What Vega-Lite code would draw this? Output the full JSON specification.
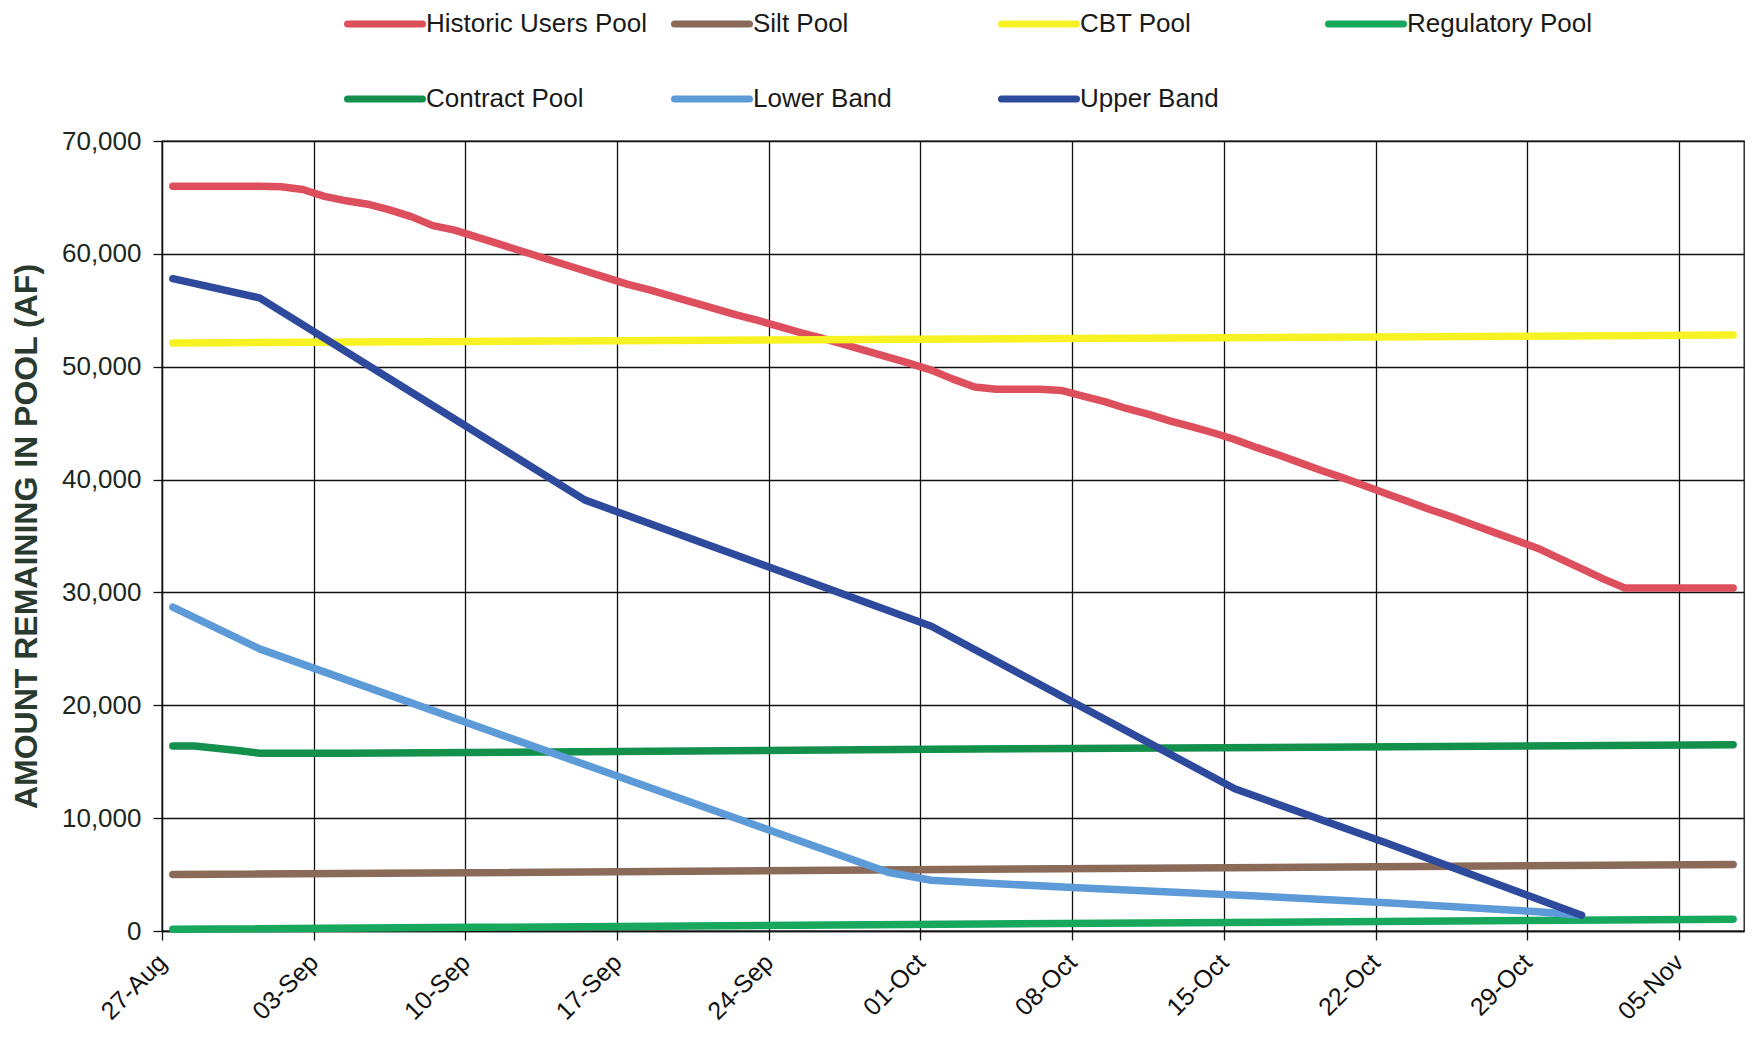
{
  "$schema": "https://vega.github.io/schema/vega-lite/v6.json",
  "autosize": {"type": "none"},
  "width": 1582,
  "height": 790,
  "padding": {"left": 162, "top": 141, "right": 10, "bottom": 108},
  "background": "#ffffff",
  "config": {
    "font": "Liberation Sans",
    "view": {"stroke": "#111111", "strokeWidth": 1.3},
    "axis": {
      "domainColor": "#111111",
      "domainWidth": 1.3,
      "gridColor": "#111111",
      "gridWidth": 1.3,
      "gridOpacity": 1,
      "tickColor": "#111111",
      "tickWidth": 1.3,
      "tickSize": 9,
      "labelFont": "Liberation Sans",
      "labelColor": "#1c2620",
      "labelFontSize": 24
    },
    "legend": {"padding": 0}
  },
  "data": {
    "values": [
      {"pool": "Historic Users Pool", "date": "2012-08-27T12:00", "af": 66000},
      {"pool": "Historic Users Pool", "date": "2012-08-28T12:00", "af": 66000},
      {"pool": "Historic Users Pool", "date": "2012-08-29T12:00", "af": 66000},
      {"pool": "Historic Users Pool", "date": "2012-08-30T12:00", "af": 66000},
      {"pool": "Historic Users Pool", "date": "2012-08-31T12:00", "af": 66000},
      {"pool": "Historic Users Pool", "date": "2012-09-01T12:00", "af": 65950},
      {"pool": "Historic Users Pool", "date": "2012-09-02T12:00", "af": 65700},
      {"pool": "Historic Users Pool", "date": "2012-09-03T12:00", "af": 65100},
      {"pool": "Historic Users Pool", "date": "2012-09-04T12:00", "af": 64700},
      {"pool": "Historic Users Pool", "date": "2012-09-05T12:00", "af": 64400},
      {"pool": "Historic Users Pool", "date": "2012-09-06T12:00", "af": 63900},
      {"pool": "Historic Users Pool", "date": "2012-09-07T12:00", "af": 63300},
      {"pool": "Historic Users Pool", "date": "2012-09-08T12:00", "af": 62500},
      {"pool": "Historic Users Pool", "date": "2012-09-09T12:00", "af": 62100},
      {"pool": "Historic Users Pool", "date": "2012-09-10T12:00", "af": 61500},
      {"pool": "Historic Users Pool", "date": "2012-09-11T12:00", "af": 60900},
      {"pool": "Historic Users Pool", "date": "2012-09-12T12:00", "af": 60300},
      {"pool": "Historic Users Pool", "date": "2012-09-13T12:00", "af": 59700},
      {"pool": "Historic Users Pool", "date": "2012-09-14T12:00", "af": 59100},
      {"pool": "Historic Users Pool", "date": "2012-09-15T12:00", "af": 58500},
      {"pool": "Historic Users Pool", "date": "2012-09-16T12:00", "af": 57900},
      {"pool": "Historic Users Pool", "date": "2012-09-17T12:00", "af": 57300},
      {"pool": "Historic Users Pool", "date": "2012-09-18T12:00", "af": 56800},
      {"pool": "Historic Users Pool", "date": "2012-09-19T12:00", "af": 56250},
      {"pool": "Historic Users Pool", "date": "2012-09-20T12:00", "af": 55700},
      {"pool": "Historic Users Pool", "date": "2012-09-21T12:00", "af": 55150},
      {"pool": "Historic Users Pool", "date": "2012-09-22T12:00", "af": 54600},
      {"pool": "Historic Users Pool", "date": "2012-09-23T12:00", "af": 54100},
      {"pool": "Historic Users Pool", "date": "2012-09-24T12:00", "af": 53550},
      {"pool": "Historic Users Pool", "date": "2012-09-25T12:00", "af": 53000},
      {"pool": "Historic Users Pool", "date": "2012-09-26T12:00", "af": 52500},
      {"pool": "Historic Users Pool", "date": "2012-09-27T12:00", "af": 51950},
      {"pool": "Historic Users Pool", "date": "2012-09-28T12:00", "af": 51400},
      {"pool": "Historic Users Pool", "date": "2012-09-29T12:00", "af": 50850},
      {"pool": "Historic Users Pool", "date": "2012-09-30T12:00", "af": 50300},
      {"pool": "Historic Users Pool", "date": "2012-10-01T12:00", "af": 49700},
      {"pool": "Historic Users Pool", "date": "2012-10-02T12:00", "af": 48900},
      {"pool": "Historic Users Pool", "date": "2012-10-03T12:00", "af": 48200},
      {"pool": "Historic Users Pool", "date": "2012-10-04T12:00", "af": 48000},
      {"pool": "Historic Users Pool", "date": "2012-10-05T12:00", "af": 48000},
      {"pool": "Historic Users Pool", "date": "2012-10-06T12:00", "af": 48000},
      {"pool": "Historic Users Pool", "date": "2012-10-07T12:00", "af": 47900},
      {"pool": "Historic Users Pool", "date": "2012-10-08T12:00", "af": 47400},
      {"pool": "Historic Users Pool", "date": "2012-10-09T12:00", "af": 46900},
      {"pool": "Historic Users Pool", "date": "2012-10-10T12:00", "af": 46300},
      {"pool": "Historic Users Pool", "date": "2012-10-11T12:00", "af": 45800},
      {"pool": "Historic Users Pool", "date": "2012-10-12T12:00", "af": 45200},
      {"pool": "Historic Users Pool", "date": "2012-10-13T12:00", "af": 44700},
      {"pool": "Historic Users Pool", "date": "2012-10-14T12:00", "af": 44150},
      {"pool": "Historic Users Pool", "date": "2012-10-15T12:00", "af": 43550},
      {"pool": "Historic Users Pool", "date": "2012-10-16T12:00", "af": 42850},
      {"pool": "Historic Users Pool", "date": "2012-10-17T12:00", "af": 42200},
      {"pool": "Historic Users Pool", "date": "2012-10-18T12:00", "af": 41500},
      {"pool": "Historic Users Pool", "date": "2012-10-19T12:00", "af": 40800},
      {"pool": "Historic Users Pool", "date": "2012-10-20T12:00", "af": 40150},
      {"pool": "Historic Users Pool", "date": "2012-10-21T12:00", "af": 39450},
      {"pool": "Historic Users Pool", "date": "2012-10-22T12:00", "af": 38750},
      {"pool": "Historic Users Pool", "date": "2012-10-23T12:00", "af": 38050},
      {"pool": "Historic Users Pool", "date": "2012-10-24T12:00", "af": 37350},
      {"pool": "Historic Users Pool", "date": "2012-10-25T12:00", "af": 36700},
      {"pool": "Historic Users Pool", "date": "2012-10-26T12:00", "af": 36000},
      {"pool": "Historic Users Pool", "date": "2012-10-27T12:00", "af": 35300},
      {"pool": "Historic Users Pool", "date": "2012-10-28T12:00", "af": 34600},
      {"pool": "Historic Users Pool", "date": "2012-10-29T12:00", "af": 33900},
      {"pool": "Historic Users Pool", "date": "2012-10-30T12:00", "af": 33000},
      {"pool": "Historic Users Pool", "date": "2012-10-31T12:00", "af": 32100},
      {"pool": "Historic Users Pool", "date": "2012-11-01T12:00", "af": 31200},
      {"pool": "Historic Users Pool", "date": "2012-11-02T12:00", "af": 30400},
      {"pool": "Historic Users Pool", "date": "2012-11-03T12:00", "af": 30400},
      {"pool": "Historic Users Pool", "date": "2012-11-04T12:00", "af": 30400},
      {"pool": "Historic Users Pool", "date": "2012-11-05T12:00", "af": 30400},
      {"pool": "Historic Users Pool", "date": "2012-11-06T12:00", "af": 30400},
      {"pool": "Historic Users Pool", "date": "2012-11-07T12:00", "af": 30400},

      {"pool": "Silt Pool", "date": "2012-08-27T12:00", "af": 5000},
      {"pool": "Silt Pool", "date": "2012-11-07T12:00", "af": 5900},

      {"pool": "CBT Pool", "date": "2012-08-27T12:00", "af": 52100},
      {"pool": "CBT Pool", "date": "2012-11-07T12:00", "af": 52800},

      {"pool": "Regulatory Pool", "date": "2012-08-27T12:00", "af": 150},
      {"pool": "Regulatory Pool", "date": "2012-11-07T12:00", "af": 1050},

      {"pool": "Contract Pool", "date": "2012-08-27T12:00", "af": 16400},
      {"pool": "Contract Pool", "date": "2012-08-28T12:00", "af": 16400},
      {"pool": "Contract Pool", "date": "2012-08-29T12:00", "af": 16200},
      {"pool": "Contract Pool", "date": "2012-08-30T12:00", "af": 16000},
      {"pool": "Contract Pool", "date": "2012-08-31T12:00", "af": 15750},
      {"pool": "Contract Pool", "date": "2012-09-04T12:00", "af": 15750},
      {"pool": "Contract Pool", "date": "2012-10-01T12:00", "af": 16100},
      {"pool": "Contract Pool", "date": "2012-11-07T12:00", "af": 16500},

      {"pool": "Lower Band", "date": "2012-08-27T12:00", "af": 28700},
      {"pool": "Lower Band", "date": "2012-08-31T12:00", "af": 25000},
      {"pool": "Lower Band", "date": "2012-09-29T12:00", "af": 5200},
      {"pool": "Lower Band", "date": "2012-10-01T12:00", "af": 4500},
      {"pool": "Lower Band", "date": "2012-10-08T12:00", "af": 3800},
      {"pool": "Lower Band", "date": "2012-10-15T12:00", "af": 3200},
      {"pool": "Lower Band", "date": "2012-10-22T12:00", "af": 2500},
      {"pool": "Lower Band", "date": "2012-10-29T12:00", "af": 1700},
      {"pool": "Lower Band", "date": "2012-10-31T12:00", "af": 1400},

      {"pool": "Upper Band", "date": "2012-08-27T12:00", "af": 57800},
      {"pool": "Upper Band", "date": "2012-08-31T12:00", "af": 56100},
      {"pool": "Upper Band", "date": "2012-09-15T12:00", "af": 38200},
      {"pool": "Upper Band", "date": "2012-10-01T12:00", "af": 27000},
      {"pool": "Upper Band", "date": "2012-10-15T12:00", "af": 12600},
      {"pool": "Upper Band", "date": "2012-10-22T12:00", "af": 7800},
      {"pool": "Upper Band", "date": "2012-10-31T12:00", "af": 1400}
    ]
  },
  "mark": {"type": "line", "strokeWidth": 7.5, "strokeCap": "round", "strokeJoin": "round", "interpolate": "linear"},
  "encoding": {
    "x": {
      "field": "date",
      "type": "temporal",
      "scale": {
        "domain": [
          {"year": 2012, "month": "Aug", "date": 27},
          {"year": 2012, "month": "Nov", "date": 8}
        ]
      },
      "axis": {
        "title": null,
        "format": "%d-%b",
        "values": [
          {"year": 2012, "month": "Aug", "date": 27},
          {"year": 2012, "month": "Sep", "date": 3},
          {"year": 2012, "month": "Sep", "date": 10},
          {"year": 2012, "month": "Sep", "date": 17},
          {"year": 2012, "month": "Sep", "date": 24},
          {"year": 2012, "month": "Oct", "date": 1},
          {"year": 2012, "month": "Oct", "date": 8},
          {"year": 2012, "month": "Oct", "date": 15},
          {"year": 2012, "month": "Oct", "date": 22},
          {"year": 2012, "month": "Oct", "date": 29},
          {"year": 2012, "month": "Nov", "date": 5}
        ],
        "labelAngle": -45,
        "labelAlign": "right",
        "labelBaseline": "middle",
        "labelPadding": 18,
        "labelFontSize": 25,
        "labelColor": "#111111",
        "grid": true
      }
    },
    "y": {
      "field": "af",
      "type": "quantitative",
      "scale": {"domain": [0, 70000], "nice": false},
      "axis": {
        "title": "AMOUNT REMAINING IN POOL (AF)",
        "titleFont": "Liberation Sans",
        "titleFontSize": 32,
        "titleFontWeight": "bold",
        "titleColor": "#2a3a2e",
        "titleX": -119,
        "titleY": 395,
        "titleAngle": -90,
        "titleAlign": "center",
        "titleBaseline": "bottom",
        "values": [0, 10000, 20000, 30000, 40000, 50000, 60000, 70000],
        "format": ",.0f",
        "labelFontSize": 26,
        "labelPadding": 12,
        "grid": true
      }
    },
    "color": {
      "field": "pool",
      "type": "nominal",
      "scale": {
        "domain": ["Historic Users Pool", "Silt Pool", "CBT Pool", "Regulatory Pool", "Contract Pool", "Lower Band", "Upper Band"],
        "range": ["#dd4f5c", "#8a6a58", "#f7f224", "#17a85e", "#12904c", "#5d9bd8", "#2e4a9c"]
      },
      "legend": {
        "title": null,
        "orient": "none",
        "legendX": 182,
        "legendY": -158,
        "direction": "horizontal",
        "columns": 4,
        "gridAlign": "all",
        "symbolType": "stroke",
        "symbolSize": 5625,
        "symbolStrokeWidth": 7,
        "labelFont": "Liberation Sans",
        "labelFontSize": 26,
        "labelColor": "#1a1a1a",
        "labelOffset": 0,
        "labelLimit": 400,
        "columnPadding": 12,
        "rowPadding": 20,
        "encode": {"symbols": {"update": {"strokeCap": {"value": "round"}}}}
      }
    }
  }
}
